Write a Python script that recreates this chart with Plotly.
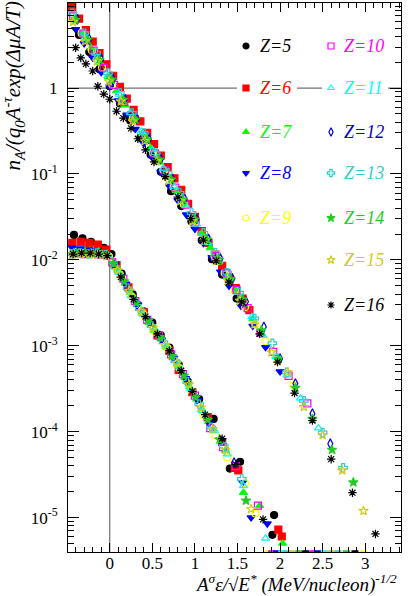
import plotly.graph_objects as go

# charges and styles
Z_LIST = [5, 6, 7, 8, 9, 10, 11, 12, 13, 14, 15, 16]
COLORS = ["#000000", "#ff0000", "#00ff00", "#0000ff", "#ffff00", "#ff00ff",
          "#00ffff", "#0000cc", "#33cccc", "#22cc22", "#cccc22", "#000000"]
SYMBOLS = ["circle", "square", "triangle-up", "triangle-down", "circle-open",
           "square-open", "triangle-up-open", "diamond-tall-open", "cross-open",
           "star", "star-open", "asterisk-open"]

# upper branch
Z5_UP_X = [-0.46, -0.36, -0.24, -0.12, 0.00, 0.12, 0.24, 0.36, 0.48, 0.60, 0.72, 0.84, 0.96, 1.08, 1.20, 1.32, 1.49]
Z5_UP_Y = [9.3, 4.15, 2.62, 1.66, 1.05, 0.662, 0.419, 0.264, 0.167, 0.106, 0.063, 0.0423, 0.028, 0.0169, 0.0102, 0.00675, 0.00355]
Z6_UP_X = [-0.44, -0.36, -0.28, -0.20, -0.12, -0.04, 0.04, 0.12, 0.20, 0.28, 0.36, 0.44, 0.52, 0.60, 0.68, 0.76, 0.84, 0.92, 1.00, 1.08, 1.16, 1.24, 1.32, 1.40, 1.48, 1.56, 1.64]
Z6_UP_Y = [8.71, 6.43, 4.73, 3.48, 2.56, 1.89, 1.39, 1.03, 0.755, 0.556, 0.409, 0.302, 0.222, 0.164, 0.120, 0.0887, 0.0655, 0.045, 0.0316, 0.0217, 0.0158, 0.0115, 0.0085, 0.0063, 0.0047, 0.00355, 0.0026]
Z7_UP_X = [-0.42, -0.32, -0.22, -0.12, -0.02, 0.08, 0.18, 0.28, 0.38, 0.48, 0.58, 0.68, 0.78, 0.88, 0.98, 1.08, 1.18, 1.28, 1.38, 1.48, 1.58, 1.68, 1.78]
Z7_UP_Y = [6.27, 4.28, 2.92, 1.99, 1.36, 0.927, 0.632, 0.432, 0.294, 0.201, 0.137, 0.0935, 0.0638, 0.0436, 0.0297, 0.0203, 0.0138, 0.00944, 0.00644, 0.0044, 0.0030, 0.00205, 0.0014]
Z8_UP_X = [-0.40, -0.30, -0.20, -0.10, 0.00, 0.10, 0.20, 0.30, 0.40, 0.50, 0.60, 0.70, 0.80, 0.90, 1.00, 1.10, 1.20, 1.30, 1.40, 1.54, 1.68, 1.83, 2.00]
Z8_UP_Y = [4.83, 3.30, 2.25, 1.53, 1.05, 0.714, 0.488, 0.333, 0.227, 0.155, 0.106, 0.0721, 0.0492, 0.0336, 0.0229, 0.0156, 0.0107, 0.00728, 0.00497, 0.00291, 0.0017, 0.00096, 0.000501]
Z9_UP_X = [-0.45, -0.33, -0.21, -0.09, 0.03, 0.15, 0.27, 0.39, 0.51, 0.63, 0.75, 0.87, 0.99, 1.11, 1.23, 1.35, 1.47, 1.59, 1.71, 1.83, 1.97, 2.16]
Z9_UP_Y = [6.87, 4.34, 2.75, 1.73, 1.10, 0.693, 0.439, 0.277, 0.175, 0.111, 0.070, 0.0443, 0.028, 0.0177, 0.0112, 0.00706, 0.00447, 0.00282, 0.00178, 0.00113, 0.00066, 0.000347]
Z10_UP_X = [-0.43, -0.31, -0.19, -0.07, 0.05, 0.17, 0.29, 0.41, 0.53, 0.65, 0.77, 0.89, 1.01, 1.13, 1.25, 1.37, 1.49, 1.62, 1.77, 1.92, 2.10, 2.32]
Z10_UP_Y = [6.82, 4.31, 2.72, 1.72, 1.09, 0.689, 0.435, 0.275, 0.174, 0.110, 0.0695, 0.044, 0.0277, 0.0175, 0.0111, 0.00702, 0.00444, 0.00275, 0.00141, 0.00085, 0.000447, 0.000214]
Z11_UP_X = [-0.41, -0.28, -0.15, -0.02, 0.11, 0.24, 0.37, 0.50, 0.63, 0.76, 0.89, 1.02, 1.15, 1.28, 1.41, 1.54, 1.67, 1.80, 1.95, 2.08, 2.24, 2.45]
Z11_UP_Y = [6.18, 3.76, 2.29, 1.39, 0.845, 0.515, 0.313, 0.191, 0.116, 0.0705, 0.043, 0.0261, 0.0159, 0.00966, 0.00587, 0.00358, 0.00218, 0.00132, 0.000746, 0.000454, 0.000245, 0.00011]
Z12_UP_X = [-0.38, -0.24, -0.10, 0.04, 0.18, 0.32, 0.46, 0.60, 0.74, 0.88, 1.02, 1.16, 1.30, 1.44, 1.60, 1.81, 2.00, 2.18, 2.38, 2.59]
Z12_UP_Y = [6.32, 3.70, 2.17, 1.27, 0.743, 0.435, 0.255, 0.149, 0.0875, 0.0512, 0.030, 0.0175, 0.0103, 0.00603, 0.00327, 0.00166, 0.000708, 0.000363, 0.000162, 0.0000724]
Z13_UP_X = [-0.44, -0.30, -0.16, -0.02, 0.12, 0.26, 0.40, 0.54, 0.68, 0.82, 0.96, 1.10, 1.24, 1.38, 1.52, 1.70, 1.91, 2.08, 2.28, 2.50, 2.74]
Z13_UP_Y = [7.41, 4.35, 2.55, 1.49, 0.873, 0.511, 0.299, 0.175, 0.103, 0.0601, 0.0352, 0.0206, 0.0121, 0.00707, 0.00414, 0.00208, 0.00107, 0.00049, 0.000229, 0.0000977, 0.000038]
Z14_UP_X = [-0.40, -0.26, -0.12, 0.02, 0.16, 0.30, 0.44, 0.58, 0.72, 0.86, 1.00, 1.14, 1.28, 1.42, 1.56, 1.78, 1.98, 2.18, 2.38, 2.61, 2.86]
Z14_UP_Y = [6.22, 3.65, 2.13, 1.25, 0.731, 0.429, 0.251, 0.147, 0.0861, 0.0504, 0.0295, 0.0173, 0.0101, 0.00593, 0.00347, 0.00151, 0.000708, 0.000324, 0.000141, 0.0000617, 0.0000257]
Z15_UP_X = [-0.43, -0.29, -0.15, -0.01, 0.13, 0.27, 0.41, 0.55, 0.69, 0.83, 0.97, 1.11, 1.25, 1.39, 1.53, 1.70, 1.90, 2.09, 2.28, 2.50, 2.73, 2.98]
Z15_UP_Y = [5.9, 3.5, 2.05, 1.2, 0.70, 0.41, 0.242, 0.141, 0.083, 0.0485, 0.0283, 0.0166, 0.0097, 0.0057, 0.00335, 0.00178, 0.00084, 0.00049, 0.000195, 0.0000912, 0.0000355, 0.000012]
Z16_UP_X = [-0.40, -0.34, -0.28, -0.20, -0.14, -0.07, 0.00, 0.08, 0.16, 0.25, 0.33, 0.42, 0.52, 0.65, 0.80, 0.95, 1.10, 1.25, 1.40, 1.55, 1.76, 1.97, 2.17, 2.38, 2.60, 2.85, 3.12]
Z16_UP_Y = [2.95, 2.24, 1.91, 1.58, 1.05, 0.851, 0.741, 0.537, 0.447, 0.339, 0.257, 0.191, 0.138, 0.0933, 0.0537, 0.0302, 0.017, 0.00977, 0.0055, 0.00324, 0.00138, 0.000646, 0.000282, 0.000135, 0.0000479, 0.0000195, 0.00000646]

# lower branch
Z5_LO_X = [-0.42, -0.32, -0.22, -0.14, -0.07, 0.02, 0.14, 0.27, 0.40, 0.50, 0.60, 0.70, 0.81, 0.92, 1.05, 1.22, 1.41, 1.53, 1.91, 1.93]
Z5_LO_Y = [0.0195, 0.0178, 0.0162, 0.0148, 0.0138, 0.0117, 0.00692, 0.00398, 0.00251, 0.00186, 0.00132, 0.000955, 0.000603, 0.00038, 0.00024, 0.000141, 0.0000372, 0.0000447, 0.0000063, 0.0000107]
Z6_LO_X = [-0.44, -0.34, -0.24, -0.14, -0.04, 0.08, 0.22, 0.40, 0.56, 0.70, 0.81, 0.97, 1.15, 1.32, 1.47, 1.51, 1.98, 2.02]
Z6_LO_Y = [0.0158, 0.0162, 0.0158, 0.0151, 0.0132, 0.00871, 0.00479, 0.00245, 0.00132, 0.000871, 0.000525, 0.000288, 0.000148, 0.0000759, 0.000038, 0.0000355, 0.00000724, 0.00000603]
Z7_LO_X = [-0.43, -0.33, -0.23, -0.13, -0.03, 0.10, 0.24, 0.38, 0.52, 0.66, 0.80, 0.94, 1.08, 1.22, 1.36, 1.57, 1.76, 2.03]
Z7_LO_Y = [0.0126, 0.0132, 0.0129, 0.0126, 0.0117, 0.00741, 0.00417, 0.0024, 0.00151, 0.000977, 0.000603, 0.000331, 0.000182, 0.000105, 0.0000603, 0.0000195, 0.0000138, 0.00000501]
Z8_LO_X = [-0.44, -0.34, -0.24, -0.14, -0.04, 0.06, 0.19, 0.33, 0.47, 0.61, 0.75, 0.89, 1.03, 1.17, 1.31, 1.56, 1.66, 1.85]
Z8_LO_Y = [0.0138, 0.0135, 0.0132, 0.0126, 0.0117, 0.00891, 0.00525, 0.00302, 0.00182, 0.00117, 0.000724, 0.000417, 0.000234, 0.000126, 0.0000776, 0.0000257, 0.00001, 0.0000085]
Z9_LO_X = [-0.41, -0.31, -0.21, -0.11, -0.01, 0.12, 0.26, 0.40, 0.54, 0.68, 0.82, 0.96, 1.10, 1.24, 1.38, 1.59, 1.71]
Z9_LO_Y = [0.0117, 0.012, 0.012, 0.0117, 0.011, 0.00676, 0.00372, 0.00229, 0.00145, 0.000933, 0.00055, 0.000302, 0.000158, 0.0000912, 0.0000501, 0.0000251, 0.0000112]
Z10_LO_X = [-0.40, -0.30, -0.20, -0.10, 0.03, 0.16, 0.30, 0.44, 0.58, 0.72, 0.86, 1.00, 1.18, 1.33, 1.48, 1.74]
Z10_LO_Y = [0.012, 0.0117, 0.012, 0.0115, 0.00933, 0.00603, 0.00331, 0.002, 0.00132, 0.000794, 0.000468, 0.000263, 0.00011, 0.0000661, 0.0000398, 0.0000138]
Z11_LO_X = [-0.42, -0.32, -0.22, -0.12, -0.02, 0.11, 0.25, 0.39, 0.53, 0.67, 0.81, 0.95, 1.09, 1.23, 1.38, 1.57, 1.83]
Z11_LO_Y = [0.0123, 0.012, 0.0123, 0.0117, 0.0112, 0.00708, 0.0038, 0.00234, 0.00155, 0.000955, 0.000575, 0.000316, 0.000174, 0.000102, 0.000055, 0.0000234, 0.00000575]
Z12_LO_X = [-0.38, -0.27, -0.17, -0.06, 0.05, 0.18, 0.32, 0.46, 0.60, 0.74, 0.88, 1.02, 1.16, 1.30, 1.46]
Z12_LO_Y = [0.0123, 0.012, 0.012, 0.0115, 0.00871, 0.00525, 0.00302, 0.00191, 0.00123, 0.000741, 0.000427, 0.00024, 0.000129, 0.0000794, 0.0000437]
Z13_LO_X = [-0.45, -0.35, -0.25, -0.15, -0.05, 0.07, 0.21, 0.35, 0.49, 0.63, 0.77, 0.91, 1.05, 1.19, 1.34, 1.55]
Z13_LO_Y = [0.0117, 0.012, 0.0117, 0.012, 0.0115, 0.00813, 0.00468, 0.00269, 0.0017, 0.0011, 0.000661, 0.00038, 0.000209, 0.000112, 0.0000676, 0.0000282]
Z14_LO_X = [-0.39, -0.29, -0.19, -0.09, 0.04, 0.17, 0.31, 0.45, 0.59, 0.73, 0.87, 1.01, 1.15, 1.29, 1.60]
Z14_LO_Y = [0.012, 0.0123, 0.0117, 0.0115, 0.00912, 0.00562, 0.00316, 0.00195, 0.00126, 0.000759, 0.000447, 0.000251, 0.000138, 0.0000813, 0.0000158]
Z15_LO_X = [-0.44, -0.34, -0.24, -0.14, -0.04, 0.09, 0.23, 0.37, 0.51, 0.65, 0.79, 0.93, 1.07, 1.21, 1.36, 1.66]
Z15_LO_Y = [0.0115, 0.0117, 0.0115, 0.0115, 0.011, 0.00759, 0.00437, 0.00251, 0.00162, 0.00102, 0.000631, 0.000355, 0.000191, 0.000107, 0.0000617, 0.0000126]
Z16_LO_X = [-0.43, -0.33, -0.23, -0.13, -0.03, 0.13, 0.28, 0.42, 0.56, 0.70, 0.84, 0.97, 1.12, 1.32, 1.48, 1.80]
Z16_LO_Y = [0.0117, 0.012, 0.012, 0.0117, 0.0112, 0.00631, 0.00347, 0.00219, 0.00138, 0.000871, 0.000513, 0.000295, 0.000158, 0.0000832, 0.0000417, 0.00000955]

# empty bins (below the axis floor)
ZERO_Z = [9, 10, 12, 11, 13, 15, 14, 16, 10, 12, 11, 15, 13, 14, 16, 9]
ZERO_X = [1.86, 1.90, 1.96, 2.02, 2.08, 2.14, 2.22, 2.30, 2.38, 2.44, 2.52, 2.60, 2.68, 2.78, 2.88, 2.98]
ZERO_Y = 3.8e-6

UP = [(Z5_UP_X, Z5_UP_Y), (Z6_UP_X, Z6_UP_Y), (Z7_UP_X, Z7_UP_Y), (Z8_UP_X, Z8_UP_Y),
      (Z9_UP_X, Z9_UP_Y), (Z10_UP_X, Z10_UP_Y), (Z11_UP_X, Z11_UP_Y), (Z12_UP_X, Z12_UP_Y),
      (Z13_UP_X, Z13_UP_Y), (Z14_UP_X, Z14_UP_Y), (Z15_UP_X, Z15_UP_Y), (Z16_UP_X, Z16_UP_Y)]
LO = [(Z5_LO_X, Z5_LO_Y), (Z6_LO_X, Z6_LO_Y), (Z7_LO_X, Z7_LO_Y), (Z8_LO_X, Z8_LO_Y),
      (Z9_LO_X, Z9_LO_Y), (Z10_LO_X, Z10_LO_Y), (Z11_LO_X, Z11_LO_Y), (Z12_LO_X, Z12_LO_Y),
      (Z13_LO_X, Z13_LO_Y), (Z14_LO_X, Z14_LO_Y), (Z15_LO_X, Z15_LO_Y), (Z16_LO_X, Z16_LO_Y)]

FONT = "Liberation Serif, DejaVu Serif, serif"
fig = go.Figure()

for i, z in enumerate(Z_LIST):
    mk = dict(color=COLORS[i], symbol=SYMBOLS[i], size=7,
              line=dict(color=COLORS[i], width=1.2))
    fig.add_trace(go.Scatter(x=UP[i][0], y=UP[i][1], mode="markers", marker=mk,
                             showlegend=False, hoverinfo="x+y"))
    ex = None
    if z == 5:
        ex = dict(type="constant", value=0.025, thickness=1, width=2, color="#000000")
    fig.add_trace(go.Scatter(x=LO[i][0], y=LO[i][1], mode="markers", marker=mk,
                             error_x=ex, showlegend=False, hoverinfo="x+y"))

# empty bins drawn at the floor
fig.add_trace(go.Scatter(
    x=ZERO_X, y=[ZERO_Y] * len(ZERO_X), mode="markers", showlegend=False,
    marker=dict(symbol="square", size=7,
                color=[COLORS[Z_LIST.index(z)] for z in ZERO_Z]),
    hoverinfo="skip"))

# helper trace so the minor tick axis is drawn
fig.add_trace(go.Scatter(x=[None], y=[None], yaxis="y2", showlegend=False))

# legend, drawn by hand in two columns
ROWS_PX = [46, 88, 132, 173, 218, 260, 305]
L, T, W, H = 68, 3, 333, 549
leg_x, leg_y = [], []
shapes = [
    dict(type="line", xref="x", yref="paper", x0=0, x1=0, y0=0, y1=1,
         line=dict(color="#707070", width=1.2), layer="below"),
    dict(type="line", xref="paper", yref="y", x0=0, x1=1, y0=1, y1=1,
         line=dict(color="#707070", width=1.2), layer="below"),
]
annotations = []
for i, z in enumerate(Z_LIST):
    col = 0 if z <= 9 else 1
    row = i if z <= 9 else i - 5
    mx = 246 if col == 0 else 331
    tx = 258 if col == 0 else 342
    py = ROWS_PX[row]
    fy = (T + H - py) / H
    leg_x.append((mx - L) / W)
    leg_y.append(fy)
    bx0, bx1 = (237, 297) if col == 0 else (322, 388)
    shapes.append(dict(type="rect", xref="paper", yref="paper",
                       x0=(bx0 - L) / W, x1=(bx1 - L) / W, y0=fy - 0.022, y1=fy + 0.022,
                       fillcolor="white", line=dict(width=0), layer="below"))
    annotations.append(dict(xref="paper", yref="paper", x=(tx - L) / W, y=fy,
                            xanchor="left", yanchor="middle", showarrow=False,
                            text="<i>Z=%d</i>" % z,
                            font=dict(family=FONT, size=18, color=COLORS[i])))

fig.add_trace(go.Scatter(
    x=leg_x, y=leg_y, xaxis="x2", yaxis="y3", mode="markers", showlegend=False,
    marker=dict(color=COLORS, symbol=SYMBOLS, size=6, line=dict(color=COLORS, width=1.2)),
    hoverinfo="skip"))

annotations.append(dict(
    xref="paper", yref="paper", x=(13 - L) / W, y=(T + H) / H, xanchor="center", yanchor="top",
    textangle=-90, showarrow=False,
    text="<i>n<sub>A</sub>/(q<sub>0</sub>A<sup>-τ</sup>exp(ΔμA/T)</i>",
    font=dict(family=FONT, size=21, color="black")))
annotations.append(dict(
    xref="paper", yref="paper", x=(399 - L) / W, y=(T + H - 583) / H, xanchor="right",
    yanchor="middle", showarrow=False,
    text="<i>A<sup>σ</sup>ε/√E<sup>*</sup> (MeV/nucleon)<sup>-1/2</sup></i>",
    font=dict(family=FONT, size=19, color="black")))

Y_MAJOR = [1e-5, 1e-4, 1e-3, 1e-2, 1e-1, 1]
Y_TEXT = ["10<sup>-5</sup>", "10<sup>-4</sup>", "10<sup>-3</sup>", "10<sup>-2</sup>",
          "10<sup>-1</sup>", "1"]
Y_MINOR = [m * 10.0 ** e for e in range(-6, 1) for m in range(2, 10)]
Y_RANGE = [-5.40, 0.99]

fig.update_layout(
    width=409, height=596,
    margin=dict(l=L, r=409 - L - W, t=T, b=596 - T - H),
    paper_bgcolor="white", plot_bgcolor="white",
    font=dict(family=FONT, size=17, color="black"),
    xaxis=dict(range=[-0.49, 3.42], tickmode="linear", tick0=0, dtick=0.5,
               ticks="inside", ticklen=9, tickcolor="black", showgrid=False,
               zeroline=False, showline=True, linecolor="black", linewidth=1,
               mirror="ticks", tickfont=dict(family=FONT, size=17), ticklabelstandoff=-4,
               minor=dict(dtick=0.1, ticks="inside", ticklen=5, tickcolor="black",
                          showgrid=False)),
    yaxis=dict(type="log", range=Y_RANGE, tickmode="array", tickvals=Y_MAJOR,
               ticktext=Y_TEXT, ticks="inside", ticklen=11, tickcolor="black",
               showgrid=False, zeroline=False, showline=True, linecolor="black",
               linewidth=1, mirror="ticks", tickfont=dict(family=FONT, size=17),
               ticklabelstandoff=6),
    yaxis2=dict(type="log", range=Y_RANGE, overlaying="y", tickmode="array",
                tickvals=Y_MINOR, ticks="inside", ticklen=6, tickcolor="black",
                showticklabels=False, showgrid=False, zeroline=False,
                showline=True, linecolor="black", mirror="ticks"),
    xaxis2=dict(range=[0, 1], overlaying="x", visible=False),
    yaxis3=dict(range=[0, 1], overlaying="y", visible=False),
    shapes=shapes,
    annotations=annotations,
)

# the page gets no body margin, so the figure sits at the window's top-left corner
fig.write_html("out.html", config={"displayModeBar": False},
               post_script="document.body.style.margin='0';")
